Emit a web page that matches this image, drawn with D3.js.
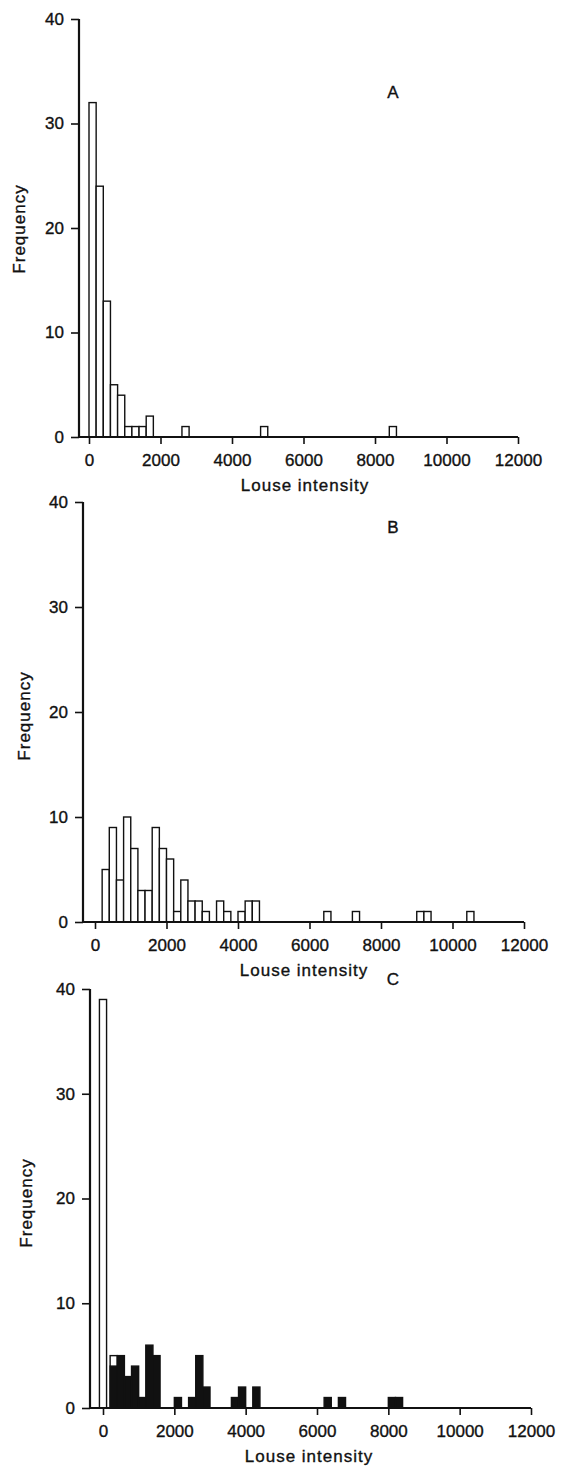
<!DOCTYPE html>
<html><head><meta charset="utf-8">
<script src="https://cdn.jsdelivr.net/npm/d3@7"></script>
<style>
html,body{margin:0;padding:0;background:#fff;}
svg text{font-family:"Liberation Sans",Arial,sans-serif;fill:#111;stroke:#111;stroke-width:0.35px;}
</style></head>
<body><svg id="chart" width="562" height="1466"></svg>
<script>
// ---- data ----
const xTicks = [0, 2000, 4000, 6000, 8000, 10000, 12000];
const yTicks = [0, 10, 20, 30, 40];
const binWidth = 200;
const panelLabels = ["A", "B", "C"];
const xTitle = "Louse intensity";
const yTitle = "Frequency";

// Panel A (open bars)
const binsA = [0, 200, 400, 600, 800, 1000, 1200, 1400, 1600, 2600, 4800, 8400];
const freqA = [32, 24, 13, 5, 4, 1, 1, 1, 2, 1, 1, 1];

// Panel B (open bars)
const binsB = [200, 400, 600, 800, 1000, 1200, 1400, 1600, 1800, 2000, 2200, 2400, 2600, 2800, 3000, 3400, 3600, 4000, 4200, 4400, 6400, 7200, 9000, 9200, 10400];
const freqB = [5, 9, 4, 10, 7, 3, 3, 9, 7, 6, 1, 4, 2, 2, 1, 2, 1, 1, 2, 2, 1, 1, 1, 1, 1];

// Panel C (open bars = zero class etc., filled bars)
const binsCOpen = [-100, 200];
const freqCOpen = [39, 5];
const binsCFilled = [200, 400, 600, 800, 1000, 1200, 1400, 2000, 2400, 2600, 2800, 3600, 3800, 4200, 6200, 6600, 8000, 8200];
const freqCFilled = [4, 5, 3, 4, 1, 6, 5, 1, 1, 5, 2, 1, 2, 2, 1, 1, 1, 1];

// ---- layout ----
const panels = [
  {label: panelLabels[0], axisX: 79, x0: 89, x1: 518, y0: 437, y40: 19, labelX: 393, labelY: 92, titleX: 305, yTitleX: 19, yTitleY: 229,
   series: [{bins: binsA, freq: freqA, fill: "#fff"}]},
  {label: panelLabels[1], axisX: 83, x0: 95, x1: 524, y0: 922, y40: 502, labelX: 393, labelY: 527, titleX: 304, yTitleX: 24, yTitleY: 716,
   series: [{bins: binsB, freq: freqB, fill: "#fff"}]},
  {label: panelLabels[2], axisX: 90, x0: 103, x1: 531, y0: 1408, y40: 989, labelX: 393, labelY: 979, titleX: 309, yTitleX: 26, yTitleY: 1203,
   series: [{bins: binsCOpen, freq: freqCOpen, fill: "#fff"}, {bins: binsCFilled, freq: freqCFilled, fill: "#111"}]}
];

const svg = d3.select("#chart");

panels.forEach(p => {
  const x = d3.scaleLinear().domain([0, 12000]).range([p.x0, p.x1]);
  const y = d3.scaleLinear().domain([0, 40]).range([p.y0, p.y40]);
  const g = svg.append("g");

  // bars
  p.series.forEach(s => {
    const data = s.bins.map((b, i) => ({b, f: s.freq[i]}));
    g.append("g").selectAll("rect").data(data).join("rect")
      .attr("x", d => x(d.b))
      .attr("y", d => y(d.f))
      .attr("width", d => x(d.b + binWidth) - x(d.b))
      .attr("height", d => y(0) - y(d.f))
      .attr("fill", s.fill)
      .attr("stroke", "#111")
      .attr("stroke-width", 1.4);
  });

  // x axis
  const xAxis = d3.axisBottom(x).tickValues(xTicks).tickSize(7).tickPadding(6).tickFormat(d3.format("d"));
  const xg = g.append("g").attr("transform", `translate(0,${p.y0})`).call(xAxis);
  xg.select(".domain").remove();
  xg.append("line").attr("x1", p.axisX).attr("x2", p.x1).attr("y1", 0).attr("y2", 0)
    .attr("stroke", "#111").attr("stroke-width", 2);
  xg.selectAll(".tick line").attr("stroke", "#111").attr("stroke-width", 1.6);
  xg.selectAll(".tick text").attr("font-size", 17).attr("fill", "#111")
    .attr("font-family", "Liberation Sans, Arial, sans-serif").attr("dy", "0.95em");

  // y axis
  const yAxis = d3.axisLeft(y).tickValues(yTicks).tickSize(8).tickPadding(7);
  const yg = g.append("g").attr("transform", `translate(${p.axisX},0)`).call(yAxis);
  yg.select(".domain").remove();
  yg.append("line").attr("x1", 0).attr("x2", 0).attr("y1", p.y0).attr("y2", p.y40)
    .attr("stroke", "#111").attr("stroke-width", 2.2);
  yg.selectAll(".tick line").attr("stroke", "#111").attr("stroke-width", 1.6);
  yg.selectAll(".tick text").attr("font-size", 17).attr("fill", "#111")
    .attr("font-family", "Liberation Sans, Arial, sans-serif");

  // titles
  g.append("text").attr("x", p.titleX).attr("y", p.y0 + 54)
    .attr("text-anchor", "middle").attr("font-size", 17).attr("letter-spacing", "1px")
    .text(xTitle);
  g.append("text").attr("transform", `translate(${p.yTitleX + 6},${p.yTitleY}) rotate(-90)`)
    .attr("text-anchor", "middle").attr("font-size", 17).attr("letter-spacing", "1px")
    .text(yTitle);
  g.append("text").attr("x", p.labelX).attr("y", p.labelY + 6)
    .attr("text-anchor", "middle").attr("font-size", 17)
    .text(p.label);
});
</script></body></html>
